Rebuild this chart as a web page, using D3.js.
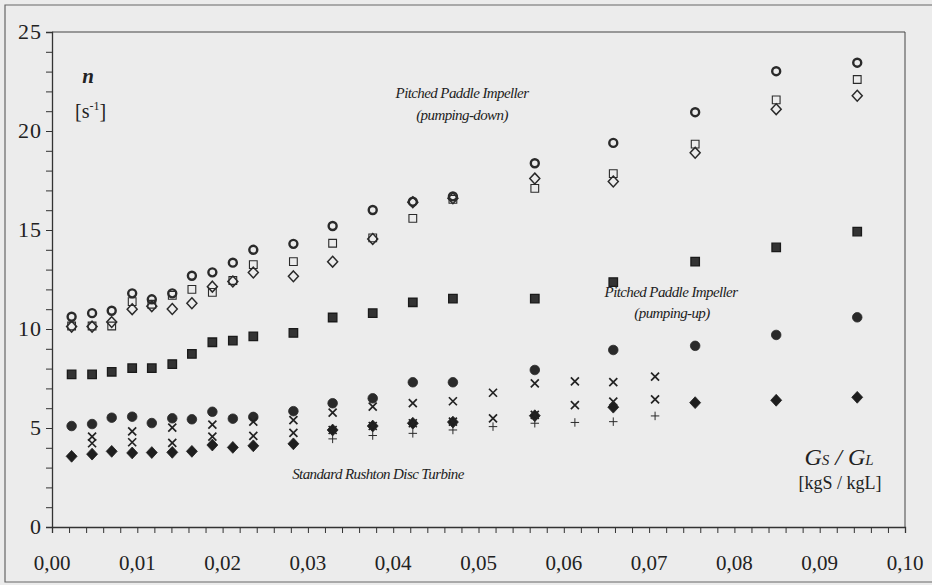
<!DOCTYPE html>
<html>
<head>
<meta charset="utf-8">
<script src="https://cdn.jsdelivr.net/npm/d3@7"></script>
<style>
  body { margin: 0; background: #ececec; }
  svg { display: block; }
</style>
</head>
<body>
<div id="chart"></div>
<script>
// solids loading Gs/GL [kgS/kgL] where the pitched paddle and ● / ◆ series were measured
const colsA = [0.0023, 0.0047, 0.0070, 0.0094, 0.0117, 0.0141, 0.0164, 0.0188, 0.0212, 0.0236,
               0.0283, 0.0329, 0.0376, 0.0423, 0.0470, 0.0566, 0.0658, 0.0754, 0.0849, 0.0944];
// loadings for the × series (Rushton turbine)
const colsB = [0.0047, 0.0094, 0.0141, 0.0188, 0.0236, 0.0283, 0.0329, 0.0376, 0.0423, 0.0470,
               0.0517, 0.0566, 0.0613, 0.0658, 0.0707];
// loadings for the + series
const colsC = [0.0329, 0.0376, 0.0423, 0.0470, 0.0517, 0.0566, 0.0613, 0.0658, 0.0707];

// Pitched Paddle Impeller (pumping-down)
const downCircle  = [10.62, 10.8, 10.92, 11.8, 11.5, 11.8, 12.69, 12.86, 13.35, 14.0,
                     14.3, 15.2, 16.01, 16.43, 16.7, 18.37, 19.4, 20.95, 23.02, 23.45];
const downSquare  = [10.15, 10.15, 10.15, 11.38, 11.25, 11.7, 12.0, 11.85, 12.45, 13.25,
                     13.4, 14.33, 14.6, 15.59, 16.55, 17.1, 17.85, 19.34, 21.57, 22.6];
const downDiamond = [10.12, 10.12, 10.35, 11.0, 11.15, 11.01, 11.3, 12.14, 12.4, 12.85,
                     12.66, 13.4, 14.55, 16.4, 16.6, 17.6, 17.45, 18.9, 21.1, 21.78];
// Pitched Paddle Impeller (pumping-up)
const upSquare    = [7.71, 7.71, 7.84, 8.02, 8.02, 8.23, 8.74, 9.33, 9.41, 9.63,
                     9.8, 10.58, 10.8, 11.35, 11.53, 11.53, 12.37, 13.4, 14.12, 14.92];
// Standard Rushton Disc Turbine
const rtCircle    = [5.1, 5.2, 5.52, 5.57, 5.25, 5.49, 5.44, 5.82, 5.47, 5.56,
                     5.85, 6.25, 6.5, 7.31, 7.31, 7.93, 8.94, 9.15, 9.7, 10.59];
const rtDiamond   = [3.57, 3.68, 3.82, 3.74, 3.76, 3.77, 3.82, 4.14, 4.02, 4.1,
                     4.2, 4.9, 5.1, 5.24, 5.3, 5.62, 6.05, 6.28, 6.4, 6.55];
const rtCrossHi   = [4.56, 4.83, 5.02, 5.17, 5.32, 5.4, 5.78, 6.08, 6.26, 6.35, 6.78, 7.25, 7.35, 7.32, 7.59];
const rtCrossLo   = [4.23, 4.28, 4.25, 4.56, 4.6, 4.75, 4.9, 5.1, 5.24, 5.32, 5.49, 5.66, 6.16, 6.33, 6.45];
const rtPlus      = [4.45, 4.62, 4.73, 4.9, 5.07, 5.24, 5.28, 5.32, 5.61];

const xTicks = [0, 0.01, 0.02, 0.03, 0.04, 0.05, 0.06, 0.07, 0.08, 0.09, 0.10];
const yTicks = [0, 5, 10, 15, 20, 25];

const W = 932, H = 585;
const margin = {top: 32, right: 27, bottom: 58, left: 52};
const width = W - margin.left - margin.right;
const height = H - margin.top - margin.bottom;
const serif = "'Liberation Serif', 'Times New Roman', serif";

// marker shapes
const diamond = {draw(ctx, s) { const r = Math.sqrt(s / 2); ctx.moveTo(0, -r * 1.08); ctx.lineTo(r, 0); ctx.lineTo(0, r * 1.08); ctx.lineTo(-r, 0); ctx.closePath(); }};
const cross = {draw(ctx, s) { const r = Math.sqrt(s) / 2; ctx.moveTo(-r, -r); ctx.lineTo(r, r); ctx.moveTo(r, -r); ctx.lineTo(-r, r); }};
const plus = {draw(ctx, s) { const r = Math.sqrt(s) / 2; ctx.moveTo(-r, 0); ctx.lineTo(r, 0); ctx.moveTo(0, -r); ctx.lineTo(0, r); }};

const series = [
  {xs: colsA, ys: rtDiamond,   type: diamond,           size: 60, fill: "#1e1e1e", stroke: "#1e1e1e", sw: 0.8},
  {xs: colsA, ys: rtCircle,    type: d3.symbolCircle,   size: 72, fill: "#2a2a2a", stroke: "#2a2a2a", sw: 0.8},
  {xs: colsB, ys: rtCrossHi,   type: cross,             size: 64, fill: "none",    stroke: "#222",    sw: 1.7},
  {xs: colsB, ys: rtCrossLo,   type: cross,             size: 64, fill: "none",    stroke: "#222",    sw: 1.7},
  {xs: colsC, ys: rtPlus,      type: plus,              size: 72, fill: "none",    stroke: "#2a2a2a", sw: 1},
  {xs: colsA, ys: upSquare,    type: d3.symbolSquare,   size: 72, fill: "#333",    stroke: "#1a1a1a", sw: 1.3},
  {xs: colsA, ys: downSquare,  type: d3.symbolSquare,   size: 60, fill: "none",    stroke: "#2a2a2a", sw: 1.1},
  {xs: colsA, ys: downDiamond, type: diamond,           size: 50, fill: "none",    stroke: "#2a2a2a", sw: 1.5},
  {xs: colsA, ys: downCircle,  type: d3.symbolCircle,   size: 50, fill: "none",    stroke: "#2a2a2a", sw: 2.4}
];

const svg = d3.select("#chart").append("svg")
  .attr("width", W)
  .attr("height", H)
  .attr("font-family", serif);

svg.append("rect").attr("width", W).attr("height", H).attr("fill", "#ececec");

// outer frame of the scanned figure
svg.append("path")
  .attr("d", "M932,5H5V582H932")
  .attr("fill", "none").attr("stroke", "#666").attr("stroke-width", 1.2);

const g = svg.append("g")
  .attr("transform", "translate(" + margin.left + "," + margin.top + ")");

const x = d3.scaleLinear().domain([0, 0.1]).range([0, width]);
const y = d3.scaleLinear().domain([0, 25]).range([height, 0]);

// plot frame (top and right)
g.append("path")
  .attr("d", "M0,0H" + width + "V" + height)
  .attr("fill", "none").attr("stroke", "#444").attr("stroke-width", 1);

// minor ticks
const xAxis = g.append("g")
  .attr("transform", "translate(0," + height + ")")
  .call(d3.axisBottom(x).tickValues(d3.range(0, 0.1001, 0.002)).tickSize(6).tickFormat(""));
const yAxis = g.append("g")
  .call(d3.axisLeft(y).tickValues(d3.range(0, 26, 1)).tickSize(6).tickFormat(""));
[xAxis, yAxis].forEach(a => {
  a.select(".domain").attr("stroke", "#333").attr("stroke-width", 1.3);
  a.selectAll(".tick line").attr("stroke", "#333").attr("stroke-width", 1);
});

// tick labels
g.selectAll(".xlab").data(xTicks).enter().append("text")
  .attr("x", d => x(d))
  .attr("y", height + 43)
  .attr("text-anchor", "middle")
  .attr("fill", "#222")
  .style("font-size", "21px")
  .text(d => d3.format(".2f")(d).replace(".", ","));

g.selectAll(".ylab").data(yTicks).enter().append("text")
  .attr("x", -10)
  .attr("y", d => y(d) + 7)
  .attr("text-anchor", "end")
  .attr("fill", "#222")
  .style("font-size", "22px")
  .style("letter-spacing", "1px")
  .text(d => d);

// markers
series.forEach(s => {
  const sym = d3.symbol().type(s.type).size(s.size);
  g.append("g").selectAll("path")
    .data(s.xs.map((v, i) => [v, s.ys[i]]))
    .enter().append("path")
      .attr("d", sym)
      .attr("transform", d => "translate(" + x(d[0]) + "," + y(d[1]) + ")")
      .attr("fill", s.fill)
      .attr("stroke", s.stroke)
      .attr("stroke-width", s.sw);
});

// axis titles
svg.append("text").attr("x", 88).attr("y", 83).attr("text-anchor", "middle").attr("fill", "#222")
  .style("font-size", "21px").style("font-style", "italic").style("font-weight", "bold").text("n");
const sUnit = svg.append("text").attr("x", 75).attr("y", 118).attr("fill", "#222").style("font-size", "20px");
sUnit.append("tspan").text("[s");
sUnit.append("tspan").attr("dy", -8).style("font-size", "12px").text("-1");
sUnit.append("tspan").attr("dy", 8).text("]");

const gs = svg.append("text").attr("x", 839).attr("y", 465).attr("text-anchor", "middle").attr("fill", "#222")
  .style("font-size", "24px").style("font-style", "italic");
gs.append("tspan").text("G");
gs.append("tspan").style("font-size", "15px").text("S");
gs.append("tspan").text(" / G");
gs.append("tspan").style("font-size", "15px").text("L");
svg.append("text").attr("x", 840).attr("y", 489).attr("text-anchor", "middle").attr("fill", "#222")
  .style("font-size", "18px").text("[kgS / kgL]");

// series annotations
const notes = [
  {x: 462, y: 98,  t: "Pitched Paddle Impeller"},
  {x: 462, y: 120, t: "(pumping-down)"},
  {x: 671, y: 297, t: "Pitched Paddle Impeller"},
  {x: 672, y: 318, t: "(pumping-up)"},
  {x: 378, y: 479, t: "Standard Rushton Disc Turbine"}
];
svg.selectAll(".note").data(notes).enter().append("text")
  .attr("x", d => d.x).attr("y", d => d.y)
  .attr("text-anchor", "middle")
  .attr("fill", "#222")
  .style("font-size", "15px").style("font-style", "italic").style("letter-spacing", "-0.6px")
  .text(d => d.t);
</script>
</body>
</html>
